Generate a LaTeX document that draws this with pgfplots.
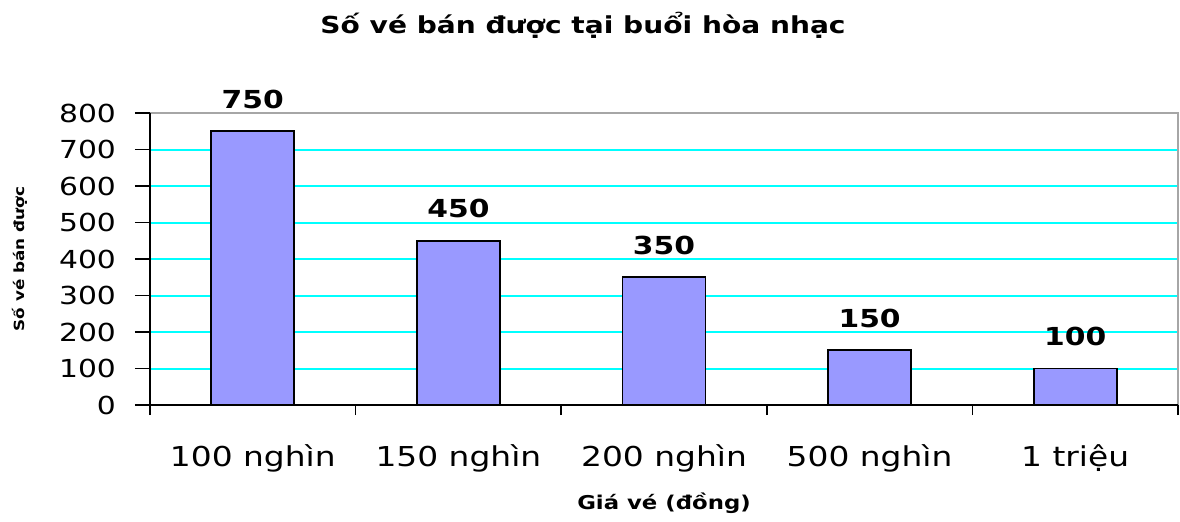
\documentclass[border=0pt]{standalone}
\usepackage{pgfplots}
\pgfplotsset{compat=1.18}
\usepackage{fontspec}
\setmainfont{DejaVu Sans}[FakeStretch=1.2]
\definecolor{barfill}{HTML}{9999FF}
\definecolor{gridcyan}{HTML}{00FFFF}
\begin{document}
\begin{tikzpicture}
\useasboundingbox (-75pt,-58pt) rectangle (515pt,202.5pt);
\begin{axis}[
  at={(0,0)}, anchor=south west,
  scale only axis, width=514pt, height=146pt,
  xmin=-0.5, xmax=4.5, ymin=0, ymax=800,
  ybar, bar width=41.5pt,
  xtick={0,1,2,3,4},
  xticklabels={100 nghìn,150 nghìn,200 nghìn,500 nghìn,1 triệu},
  minor xtick={-0.5,0.5,1.5,2.5,3.5,4.5},
  ytick={0,100,...,800},
  tick align=outside,
  major tick length=7.5pt,
  minor tick length=5pt,
  major x tick style={draw=none},
  tick style={black, line width=0.9pt},
  minor x tick style={black, line width=0.9pt},
  xtick pos=bottom, ytick pos=left,
  ymajorgrids,
  grid style={gridcyan, line width=1pt},
  axis line style={draw=none},
  clip=false,
  /pgf/number format/assume math mode=true,
  yticklabel style={font=\fontsize{12.4}{14}\selectfont, xshift=-6pt},
  xticklabel style={font=\fontsize{13.7}{16}\selectfont, yshift=-9pt},
  xlabel={Giá vé (đồng)},
  xlabel style={font=\bfseries\fontsize{9.5}{11}\selectfont, at={(axis description cs:0.5,0)}, anchor=center, yshift=-49pt},
  ylabel={Số vé bán được},
  ylabel style={font=\bfseries\fontsize{7}{8}\selectfont, at={(axis description cs:-0.1265,0.5)}, anchor=center},
  nodes near coords,
  every node near coord/.append style={font=\bfseries\fontsize{12.4}{14}\selectfont, anchor=south, yshift=7.5pt, black},
]
\addplot[fill=barfill, draw=black, line width=0.9pt] coordinates {(0,750) (1,450) (2,350) (3,150) (4,100)};
\draw[gray!70, line width=0.9pt] (rel axis cs:0,1) -- (rel axis cs:1,1) -- (rel axis cs:1,0);
\draw[black, line width=0.9pt] (rel axis cs:0,1) -- (rel axis cs:0,0) -- (rel axis cs:1,0);
\end{axis}
\node[font=\bfseries\fontsize{11.7}{14}\selectfont, anchor=center] at (216.5pt,190pt) {Số vé bán được tại buổi hòa nhạc};
\end{tikzpicture}
\end{document}
